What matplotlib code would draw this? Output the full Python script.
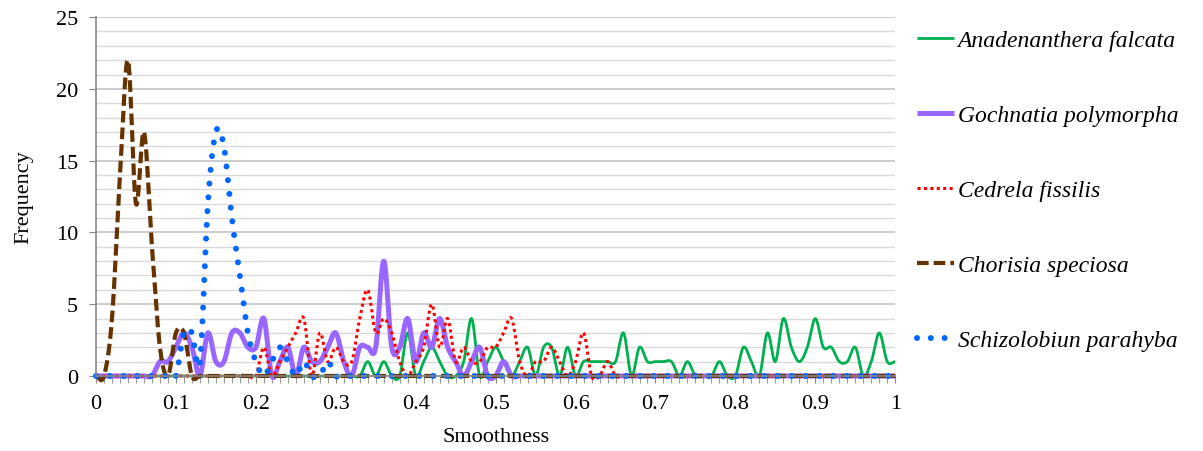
import matplotlib
matplotlib.use("Agg")
import matplotlib.pyplot as plt
from matplotlib.ticker import MultipleLocator
import numpy as np

plt.rcParams['font.family'] = ['Liberation Serif', 'DejaVu Serif']

# smoothness classes 0.00 .. 1.00 (step 0.01)
smoothness = np.round(np.arange(101) * 0.01, 2)

anadenanthera = [0] * 33 + [
    0, 1, 0, 1, 0, 0, 3, 0, 1, 2, 1, 0, 0, 1, 4, 0, 1, 2, 1, 0,   # 33-52
    1, 2, 0, 2, 2, 0, 2, 0, 1, 1, 1, 1, 1, 3, 0, 2, 1, 1, 1, 1,   # 53-72
    0, 1, 0, 0, 0, 1, 0, 0, 2, 1, 0, 3, 1, 4, 2, 1, 2, 4, 2, 2,   # 73-92
    1, 1, 2, 0, 1, 3, 1, 1]                                       # 93-100
gochnatia = [0] * 8 + [
    1, 1, 2, 3, 2, 0, 3, 1, 1, 3, 3, 2, 2, 4, 0, 1, 2, 0, 2, 1,   # 8-27
    1, 2, 3, 1, 0, 2, 2, 2, 8, 2, 2, 4, 1, 3, 2, 4, 2, 1, 0, 1,   # 28-47
    2, 0, 0, 1, 0] + [0] * 48
cedrela = [0] * 21 + [
    2, 0, 1, 2, 3, 4, 0, 3, 1, 2, 1, 1, 4, 6, 3, 4, 3, 1, 0, 1,   # 21-40
    2, 5, 2, 4, 1, 2, 1, 1, 2, 2, 3, 4, 1, 0, 1, 1, 2, 1, 0, 1,   # 41-60
    3, 0, 0, 1, 0] + [0] * 35
chorisia = [0, 0, 4, 14, 22, 12, 17, 9, 2, 0, 3, 3, 0] + [0] * 88
schizolobiun = [0] * 11 + [
    3, 3, 1, 12, 17, 16, 11, 7, 3, 1, 0, 1, 2, 1, 0, 1, 0, 0, 1, 0] + [0] * 70

series = [
    ("Anadenanthera falcata", anadenanthera, "#00B050", 2.0, "-"),
    ("Gochnatia polymorpha", gochnatia, "#9966FF", 3.6, "-"),
    ("Cedrela fissilis", cedrela, "#FF0000", 2.2, (0, (1, 1.1))),
    ("Chorisia speciosa", chorisia, "#663300", 3.0, (0, (2.8, 1.2))),
    ("Schizolobiun parahyba", schizolobiun, "#0066FF", 4.3, (0, (0.01, 2.3))),
]


def smooth(x, y, n=20):
    # Catmull-Rom spline through the points (like Excel's smoothed line)
    x = np.asarray(x, float)
    y = np.asarray(y, float)
    yp = np.concatenate([[y[0]], y, [y[-1]]])
    xs, ys = [], []
    t = np.linspace(0, 1, n, endpoint=False)
    for i in range(len(x) - 1):
        p0, p1, p2, p3 = yp[i], yp[i + 1], yp[i + 2], yp[i + 3]
        m1 = (p2 - p0) / 2
        m2 = (p3 - p1) / 2
        h00 = 2 * t**3 - 3 * t**2 + 1
        h10 = t**3 - 2 * t**2 + t
        h01 = -2 * t**3 + 3 * t**2
        h11 = t**3 - t**2
        ys.append(h00 * p1 + h10 * m1 + h01 * p2 + h11 * m2)
        xs.append(x[i] + t * (x[i + 1] - x[i]))
    xs.append([x[-1]])
    ys.append([y[-1]])
    return np.concatenate(xs), np.concatenate(ys)


fig = plt.figure(figsize=(12.03, 4.52), dpi=100)
ax = fig.add_axes([0.0798, 0.166, 0.6644, 0.794])

for name, vals, col, lw, ls in series:
    sx, sy = smooth(smoothness, vals)
    cap = "round" if name.startswith("Schizo") else "butt"
    ax.plot(sx, sy, color=col, lw=lw, linestyle=ls, label=name,
            dash_capstyle=cap, solid_capstyle="butt", clip_on=False)

ax.set_xlim(0, 1)
ax.set_ylim(0, 25)
ax.xaxis.set_major_locator(MultipleLocator(0.1))
ax.xaxis.set_minor_locator(MultipleLocator(0.01))
ax.xaxis.set_major_formatter(lambda v, p: f"{v:g}")
ax.yaxis.set_major_locator(MultipleLocator(5))
ax.yaxis.set_minor_locator(MultipleLocator(1))

ax.grid(which="major", axis="y", color="#BFBFBF", lw=1.1)
ax.grid(which="minor", axis="y", color="#DADADA", lw=1.0)
ax.set_axisbelow(True)

for s in ["top", "right"]:
    ax.spines[s].set_visible(False)
for s in ["left", "bottom"]:
    ax.spines[s].set_color("#868686")
    ax.spines[s].set_linewidth(1.2)

ax.tick_params(axis="x", which="both", direction="out", length=5, color="#868686",
               labelsize=16, pad=8)
ax.tick_params(axis="y", which="major", direction="out", length=5, color="#868686",
               labelsize=16, pad=8)
ax.tick_params(axis="y", which="minor", length=0)

ax.set_xlabel("Smoothness", fontsize=16, labelpad=10)
ax.set_ylabel("Frequency", fontsize=16, labelpad=16)

fig.legend(loc="upper left", bbox_to_anchor=(0.745, 0.98), frameon=False,
           prop={"family": "Liberation Serif", "style": "italic", "size": 17},
           handlelength=1.55, handletextpad=0.15, labelspacing=2.27)

fig.savefig("out.png", dpi=100)
